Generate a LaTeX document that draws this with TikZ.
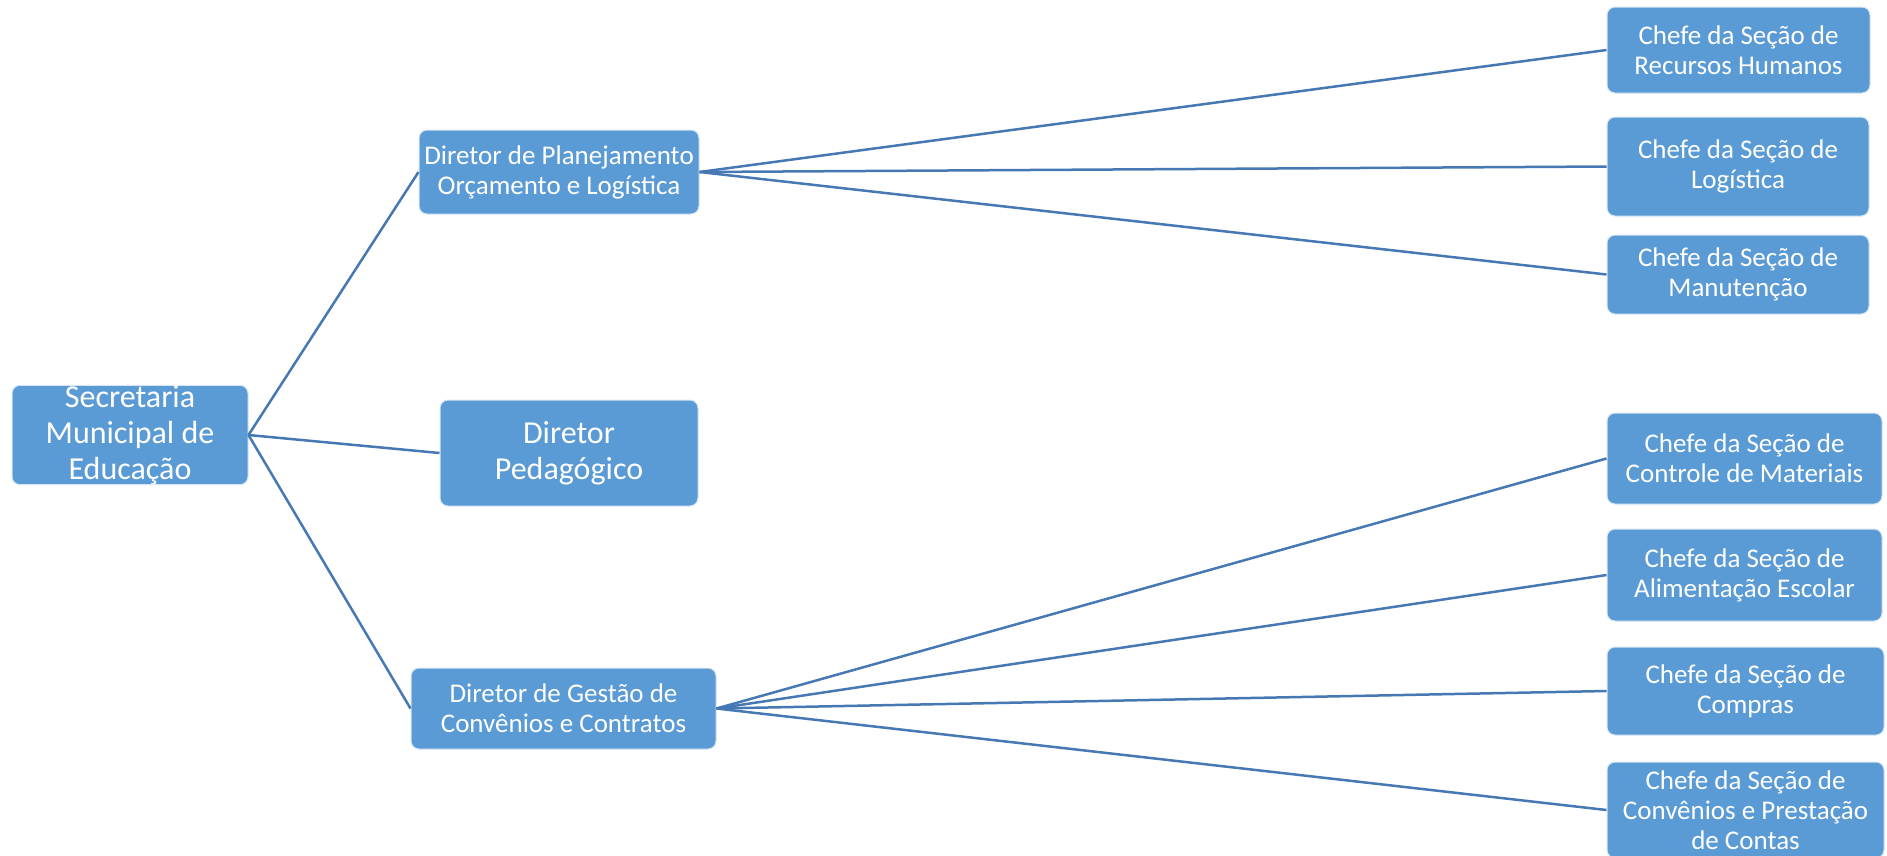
\documentclass[tikz,border=0pt]{standalone}
\usepackage{fontspec}
\setmainfont{Carlito}
\definecolor{boxblue}{RGB}{91,155,213}
\definecolor{linkblue}{RGB}{70,120,180}
\tikzset{
  orgbox/.style={draw=white!75!boxblue, line width=1pt, fill=boxblue, rounded corners=8pt,
    text=white, align=center, inner sep=0pt, font=\fontsize{27}{30}\selectfont},
  bigbox/.style={orgbox, font=\fontsize{32}{36}\selectfont},
  link/.style={draw=linkblue, line width=2.5pt}
}
\begin{document}
\begin{tikzpicture}[x=1pt,y=-1pt]
\useasboundingbox (0,0) rectangle (1887,855);
% level 1
\node[bigbox, minimum width=236pt, minimum height=98pt] (sec) at (130,435) {Secretaria\\Municipal de\\Educação};
% level 2
\node[orgbox, minimum width=280pt, minimum height=84pt] (plan) at (559,172) {Diretor de Planejamento\\Orçamento e Logística};
\node[bigbox, minimum width=258pt, minimum height=106pt] (ped) at (569,453) {Diretor\\Pedagógico};
\node[orgbox, minimum width=305pt, minimum height=81pt] (gest) at (563.5,708.5) {Diretor de Gestão de\\Convênios e Contratos};
% level 3
\node[orgbox, minimum width=263pt, minimum height=86pt] (rh) at (1738.5,50) {Chefe da Seção de\\Recursos Humanos};
\node[orgbox, minimum width=262pt, minimum height=99pt] (log) at (1738,166.5) {Chefe da Seção de\\Logística};
\node[orgbox, minimum width=262pt, minimum height=79pt] (man) at (1738,274.5) {Chefe da Seção de\\Manutenção};
\node[orgbox, minimum width=275pt, minimum height=91pt] (ctl) at (1744.5,458.5) {Chefe da Seção de\\Controle de Materiais};
\node[orgbox, minimum width=275pt, minimum height=92pt] (ali) at (1744.5,575) {Chefe da Seção de\\Alimentação Escolar};
\node[orgbox, minimum width=277pt, minimum height=88pt] (com) at (1745.5,691) {Chefe da Seção de\\Compras};
\node[orgbox, minimum width=277pt, minimum height=96pt] (conv) at (1745.5,810) {Chefe da Seção de\\Convênios e Prestação\\de Contas};
% connectors
\draw[link] (sec.east) -- (plan.west);
\draw[link] (sec.east) -- (ped.west);
\draw[link] (sec.east) -- (gest.west);
\draw[link] (plan.east) -- (rh.west);
\draw[link] (plan.east) -- (log.west);
\draw[link] (plan.east) -- (man.west);
\draw[link] (gest.east) -- (ctl.west);
\draw[link] (gest.east) -- (ali.west);
\draw[link] (gest.east) -- (com.west);
\draw[link] (gest.east) -- (conv.west);
\end{tikzpicture}
\end{document}
